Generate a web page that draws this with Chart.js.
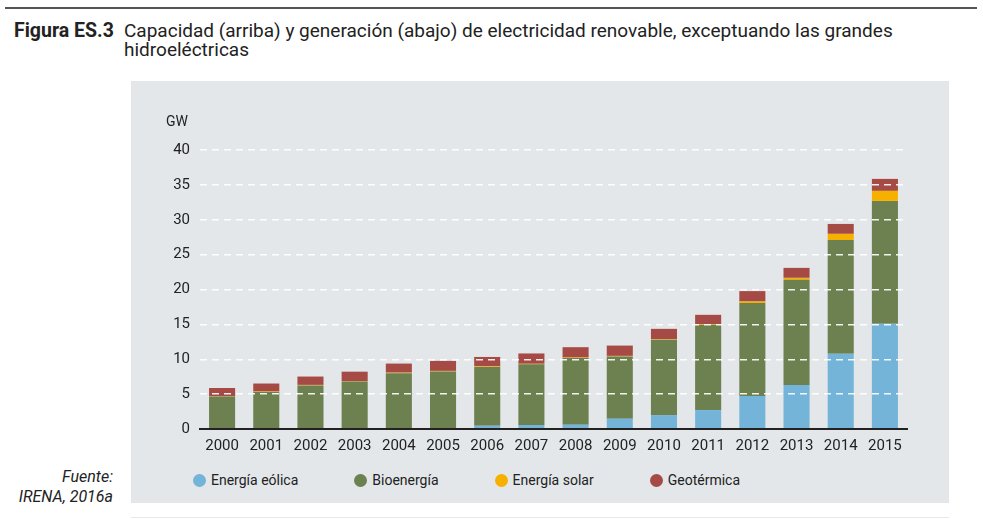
<!DOCTYPE html>
<html lang="es">
<head>
<meta charset="utf-8">
<script src="https://cdn.jsdelivr.net/npm/chart.js"></script>
<style>
    body { margin: 0; width: 983px; height: 520px; background: #fff; position: relative; overflow: hidden;
           font-family: "Roboto", sans-serif; color: #222; }
    .regla { position: absolute; left: 5px; top: 7px; width: 972px; height: 2px; background: #555; }
    .titulo { position: absolute; left: 14px; top: 21px; font-size: 19px; line-height: 19px; }
    .titulo b { position: absolute; left: 0; top: 0; white-space: nowrap; font-size: 19.5px; letter-spacing: 0; }
    .titulo span { position: absolute; left: 110px; top: 0; width: 800px; letter-spacing: 0; }
    .panel { position: absolute; left: 131px; top: 81px; width: 818px; height: 422px; background: #e4e7ea; }
    .linea-baja { position: absolute; left: 131px; top: 517px; width: 818px; height: 1px; background: #e6e8ea; }
    #grafico { position: absolute; left: 0; top: 0; }
    .unidad { position: absolute; left: 35px; top: 32px; font-size: 14px; }
    .leyenda { position: absolute; left: 62px; top: 391px; display: flex; font-size: 14px; }
    .leyenda div { display: flex; align-items: center; margin-right: 56px; }
    .leyenda i { width: 13px; height: 13px; border-radius: 50%; margin-right: 5px; display: inline-block; }
    .fuente { position: absolute; right: 870px; top: 467px; text-align: right; font-style: italic; font-size: 16px; line-height: 20px; }
</style>
</head>
<body>
<div class="regla"></div>
<div class="titulo"><b>Figura ES.3</b><span>Capacidad (arriba) y generación (abajo) de electricidad renovable, exceptuando las grandes hidroeléctricas</span></div>
<div class="panel">
    <canvas id="grafico" width="818" height="380" style="width:818px;height:380px"></canvas>
    <div class="unidad">GW</div>
    <div class="leyenda" id="leyenda"></div>
</div>
<div class="linea-baja"></div>
<div class="fuente">Fuente:<br>IRENA, 2016a</div>

<script>
const anios = ['2000', '2001', '2002', '2003', '2004', '2005', '2006', '2007',
               '2008', '2009', '2010', '2011', '2012', '2013', '2014', '2015'];

// GW por tecnología
const eolica = [0.05, 0.05, 0.05, 0.1, 0.1, 0.1, 0.47, 0.57, 0.62, 1.48, 2.0, 2.72, 4.73, 6.3, 10.79, 15.09];
const bioenergia = [4.62, 5.25, 6.2, 6.7, 7.9, 8.15, 8.43, 8.7, 9.55, 8.92, 10.8, 12.18, 13.32, 15.09, 16.31, 17.61];
const solar = [0.06, 0.07, 0.07, 0.07, 0.08, 0.08, 0.08, 0.08, 0.08, 0.08, 0.08, 0.1, 0.23, 0.28, 0.88, 1.44];
const geotermica = [1.15, 1.15, 1.2, 1.35, 1.3, 1.44, 1.35, 1.48, 1.48, 1.48, 1.48, 1.37, 1.49, 1.43, 1.42, 1.72];

const ticksY = [0, 5, 10, 15, 20, 25, 30, 35, 40];

const series = [
    { label: 'Energía eólica', data: eolica, color: '#75b4d9' },
    { label: 'Bioenergía', data: bioenergia, color: '#6d8050' },
    { label: 'Energía solar', data: solar, color: '#f6b100' },
    { label: 'Geotérmica', data: geotermica, color: '#a64a46' }
];

const fuenteEje = { family: 'Roboto, sans-serif', size: 15 };

new Chart(document.getElementById('grafico').getContext('2d'), {
    type: 'bar',
    data: {
        labels: anios,
        datasets: series.map(function (s) {
            return {
                label: s.label,
                data: s.data,
                backgroundColor: s.color,
                borderWidth: 0,
                categoryPercentage: 1,
                barPercentage: 0.59
            };
        })
    },
    options: {
        responsive: false,
        animation: false,
        layout: { padding: { top: 69, right: 42, bottom: 0, left: 0 } },
        plugins: {
            legend: { display: false },
            tooltip: { enabled: false }
        },
        scales: {
            x: {
                stacked: true,
                afterFit: function (scale) { scale.height = 32; },
                grid: { display: false, drawTicks: false },
                border: { color: '#222', width: 2, z: 2 },
                ticks: { color: '#222', font: fuenteEje, padding: 8, maxRotation: 0 }
            },
            y: {
                stacked: true,
                min: 0,
                max: 40,
                afterFit: function (scale) { scale.width = 69; },
                afterBuildTicks: function (scale) {
                    scale.ticks = ticksY.map(function (v) { return { value: v }; });
                },
                grid: {
                    z: 1,
                    drawTicks: false,
                    lineWidth: 1.5,
                    color: function (ctx) {
                        return ctx.tick && ctx.tick.value === 0 ? 'rgba(0,0,0,0)' : 'rgba(255,255,255,0.9)';
                    }
                },
                border: { display: false, dash: [7, 5] },
                ticks: { color: '#222', font: fuenteEje, padding: 10 }
            }
        }
    }
});

// Leyenda con puntos redondos
const leyenda = document.getElementById('leyenda');
series.forEach(function (s) {
    const item = document.createElement('div');
    item.innerHTML = '<i style="background:' + s.color + '"></i>' + s.label;
    leyenda.appendChild(item);
});
</script>
</body>
</html>
